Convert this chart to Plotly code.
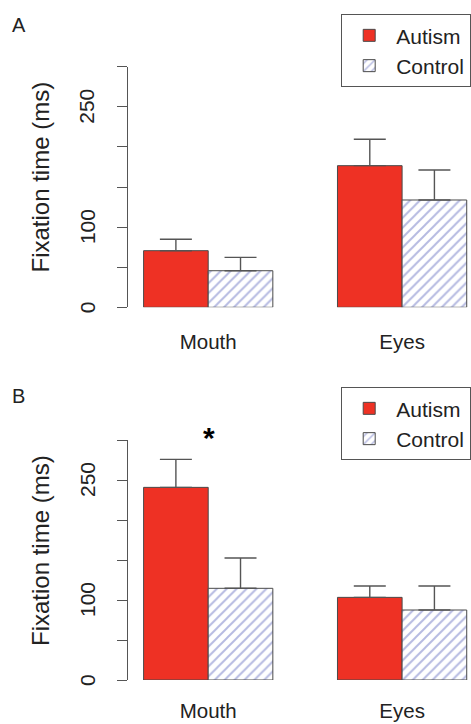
import plotly.graph_objects as go
from plotly.subplots import make_subplots

# Fixation time (ms) by face region, two experiments (A and B)
regions = ["Mouth", "Eyes"]
groups = ["Autism", "Control"]

a_autism = [70.6, 176.6]
a_autism_err = [14.2, 32.9]
a_control = [45.6, 133.8]
a_control_err = [16.7, 37.4]

b_autism = [240.8, 103.3]
b_autism_err = [35.0, 14.2]
b_control = [114.6, 87.5]
b_control_err = [37.9, 30.0]

y_ticks = [0, 50, 100, 150, 200, 250, 300]
y_ticklabels = ["0", "", "100", "", "", "250", ""]

# bar centres in bar-width units: groups separated by one bar width
autism_x = [0.5, 3.5]
control_x = [1.5, 4.5]
region_x = [1.0, 4.0]
X_RANGE = [-0.241, 5.066]

RED = "#ee3124"
HATCH = "#6d76c4"
EDGE = "#4a4a4a"
AXIS = "#555555"
FONT = "Liberation Sans, Arial, sans-serif"

W, H = 471, 724
ML = 128

fig = make_subplots(rows=2, cols=1)

panels = [
    (1, a_autism, a_autism_err, a_control, a_control_err, "legend"),
    (2, b_autism, b_autism_err, b_control, b_control_err, "legend2"),
]

for row, aut, aut_e, ctl, ctl_e, leg in panels:
    fig.add_trace(go.Bar(
        x=autism_x, y=aut, width=1.0, name=groups[0], legend=leg,
        marker=dict(color=RED, line=dict(color=EDGE, width=1)),
        error_y=dict(type="data", array=aut_e, arrayminus=[0] * len(aut_e),
                     symmetric=False, color=AXIS, thickness=1.4, width=16),
    ), row=row, col=1)
    fig.add_trace(go.Bar(
        x=control_x, y=ctl, width=1.0, name=groups[1], legend=leg,
        marker=dict(color="white", line=dict(color=EDGE, width=1),
                    pattern=dict(shape="/", fgcolor=HATCH, bgcolor="white",
                                 size=7, solidity=0.28)),
        error_y=dict(type="data", array=ctl_e, arrayminus=[0] * len(ctl_e),
                     symmetric=False, color=AXIS, thickness=1.4, width=16),
    ), row=row, col=1)


def ydom(top_px, bottom_px):
    return [1 - bottom_px / H, 1 - top_px / H]


def px_x(px):
    return (px - ML) / (W - ML)


def px_y(px):
    return 1 - px / H


axes = [(1, ydom(66.7, 307.3), 20), (2, ydom(440.0, 680.0), 16)]

notes = []
for i, dom, standoff in axes:
    sfx = "" if i == 1 else str(i)
    fig.layout["yaxis" + sfx].update(
        domain=dom, range=[0, 300], tickvals=y_ticks,
        ticks="outside", ticklen=10, tickwidth=1.4, showticklabels=False,
        tickcolor=AXIS, showline=True, linecolor=AXIS, linewidth=1.4,
        showgrid=False, zeroline=False,
    )
    fig.layout["xaxis" + sfx].update(
        range=X_RANGE, tickvals=region_x, ticktext=regions,
        showline=False, showgrid=False, zeroline=False, ticks="",
        ticklabelstandoff=standoff,
        tickfont=dict(size=20.5, color="#222", family=FONT),
    )
    # vertical tick labels, placed on the axis scale
    for val, lab in zip(y_ticks, y_ticklabels):
        if lab:
            notes.append(dict(text=lab, textangle=-90, xref="paper",
                              yref="y" + sfx, x=px_x(87), y=val,
                              xanchor="center", yanchor="middle",
                              showarrow=False,
                              font=dict(size=21, color="#222", family=FONT)))

legend_style = dict(
    bordercolor=AXIS, borderwidth=1.2, bgcolor="white",
    font=dict(size=21, color="#222", family=FONT),
    xanchor="right", x=1.0, yanchor="top", traceorder="normal",
    itemwidth=44, tracegroupgap=0,
)

for label, ypx in (("A", 25), ("B", 396)):
    notes.append(dict(text=label, xref="paper", yref="paper",
                      x=px_x(10), y=px_y(ypx),
                      xanchor="left", yanchor="middle", showarrow=False,
                      font=dict(size=20, color="#222", family=FONT)))

# y-axis titles
for ycen in (177.5, 551.0):
    notes.append(dict(text="Fixation time (ms)", textangle=-90,
                      xref="paper", yref="paper",
                      x=px_x(40), y=px_y(ycen),
                      xanchor="center", yanchor="middle", showarrow=False,
                      font=dict(size=24, color="#222", family=FONT)))

# significance marker above the mouth bars in B
notes.append(dict(text="<b>*</b>", xref="paper", yref="paper",
                  x=px_x(209), y=px_y(438),
                  showarrow=False, xanchor="center", yanchor="middle",
                  font=dict(size=30, color="black", family=FONT)))

fig.update_layout(
    width=W, height=H, barmode="overlay",
    margin=dict(l=ML, r=0, t=0, b=0, autoexpand=False),
    plot_bgcolor="white", paper_bgcolor="white",
    legend=dict(y=px_y(14), **legend_style),
    legend2=dict(y=px_y(387), **legend_style),
    annotations=notes,
    showlegend=True,
)

fig.write_html("out.html")
